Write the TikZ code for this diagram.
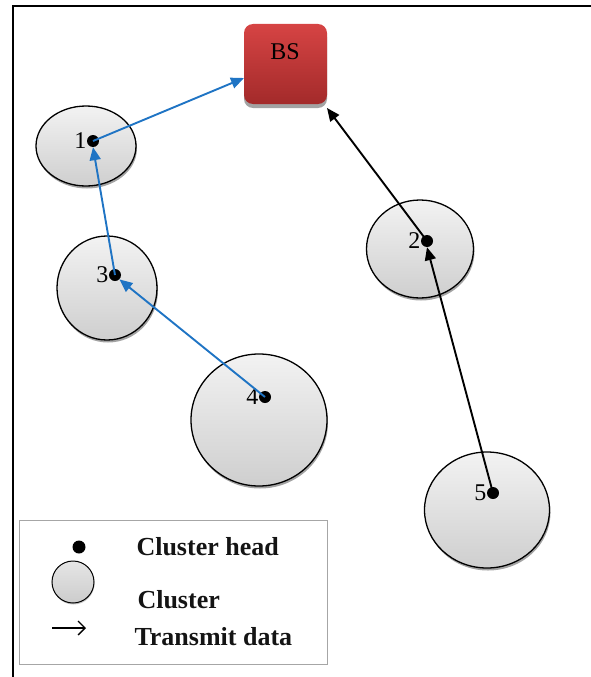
\documentclass[tikz,border=0pt]{standalone}
\usepackage{fontspec}
\setmainfont{Liberation Serif}
\usetikzlibrary{shadows,arrows.meta,shapes.geometric}
\definecolor{linkblue}{HTML}{1F74C4}
\definecolor{bstop}{HTML}{D64444}
\definecolor{bsbot}{HTML}{A32A2A}
\tikzset{
  cluster/.style={ellipse, draw=black, line width=1.3pt,
    top color=gray!10, bottom color=gray!38,
    drop shadow={shadow xshift=1pt, shadow yshift=-2.5pt, fill=black!45, opacity=.8}},
  head/.style={circle, fill=black, inner sep=0pt, minimum size=12pt},
  numlabel/.style={font=\fontsize{24}{24}\selectfont, inner sep=0.3pt, anchor=east},
  bluelink/.style={draw=linkblue, line width=1.9pt, -{Triangle[length=13pt,width=11pt]}},
  blacklink/.style={draw=black, line width=1.9pt, -{Triangle[length=13pt,width=11pt]}},
  legendtext/.style={font=\fontsize{26}{26}\selectfont\bfseries, anchor=west, text=black!92},
}
\begin{document}
\begin{tikzpicture}[x=1pt,y=-1pt]
\useasboundingbox (0,0) rectangle (591,677);
% outer frame: top and left edges only
\draw[line width=2pt] (13,677) -- (13,6) -- (591,6);

% base station
\node[draw=none, rounded corners=9pt, minimum width=83pt, minimum height=80pt,
  top color=bstop, bottom color=bsbot,
  drop shadow={shadow xshift=0pt, shadow yshift=-4pt, fill=black!40, opacity=.9}]
  (bs) at (285.5,64) {};
\node[font=\fontsize{24}{24}\selectfont] (bslabel) at (285,52) {BS};

% clusters
\node[cluster, minimum width=100pt, minimum height=80pt] (c1) at (86,146) {};
\node[cluster, minimum width=100pt, minimum height=104pt] (c3) at (107,288) {};
\node[cluster, minimum width=136pt, minimum height=132pt] (c4) at (259,420) {};
\node[cluster, minimum width=107pt, minimum height=98pt] (c2) at (420,249) {};
\node[cluster, minimum width=125pt, minimum height=116pt] (c5) at (487,510) {};

% cluster heads
\node[head] (h1) at (93,141) {};
\node[head] (h3) at (115,275) {};
\node[head] (h4) at (265,397) {};
\node[head] (h2) at (427,241) {};
\node[head] (h5) at (493,493) {};

\node[numlabel] (l1) at (h1.west) {1};
\node[numlabel] (l3) at (h3.west) {3};
\node[numlabel] (l4) at (h4.west) {4};
\node[numlabel] (l2) at (h2.west) {2};
\node[numlabel] (l5) at (h5.west) {5};

% data transmission paths
\coordinate (bsleft) at (244,78);
\coordinate (bscorner) at (327,108);
\draw[bluelink] (h1.center) -- (bsleft);
\draw[bluelink] (h3.center) -- (h1.south);
\draw[bluelink] (h4.center) -- (h3.south east);
\draw[blacklink] (h2.center) -- (bscorner);
\draw[blacklink] (h5.center) -- (h2.south);

% legend
\node[draw=gray!70, line width=1pt, minimum width=308pt, minimum height=144pt, anchor=north west]
  (legend) at (19,520) {};
\node[head, minimum size=13pt] (lghead) at (79,547) {};
\node[circle, draw=black, line width=1pt, minimum size=42pt,
  top color=gray!20, bottom color=gray!40,
  drop shadow={shadow xshift=0.5pt, shadow yshift=-1.5pt, fill=black!45}] (lgcluster) at (73,582) {};
\coordinate (lgarrowstart) at (52,628);
\coordinate (lgarrowend) at (86,628);
\draw[line width=1.3pt, -{Straight Barb[length=7pt,width=14pt]}] (lgarrowstart) -- (lgarrowend);
\node[legendtext] (t1) at (133,547) {Cluster head};
\node[legendtext] (t2) at (134,600) {Cluster};
\node[legendtext] (t3) at (131,637) {Transmit data};
\end{tikzpicture}
\end{document}
